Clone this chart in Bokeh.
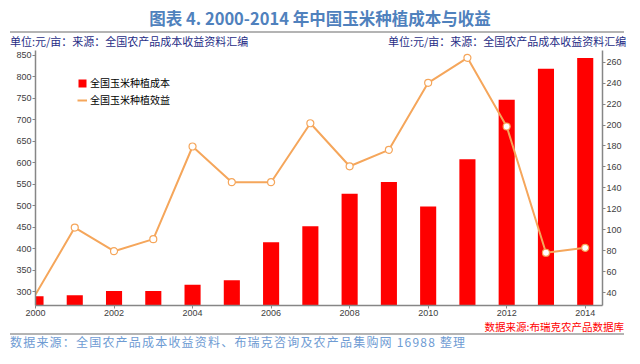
from bokeh.plotting import figure
from bokeh.models import Range1d, LinearAxis, Legend, LegendItem, FixedTicker, Div
from bokeh.layouts import column
from bokeh.embed import file_html
from bokeh.resources import INLINE

years = [2000, 2001, 2002, 2003, 2004, 2005, 2006, 2007, 2008, 2009, 2010, 2011, 2012, 2013, 2014]
cost = [289, 291, 301, 301, 316, 326, 415, 452, 528, 555, 498, 608, 747, 819, 844]
profit = [38, 102, 79.5, 91, 179.5, 145.4, 145.4, 201.7, 160.6, 176.3, 240.3, 264.2, 198.6, 78, 82.7]
x_ticks = [2000, 2002, 2004, 2006, 2008, 2010, 2012, 2014]
left_ticks = [300, 350, 400, 450, 500, 550, 600, 650, 700, 750, 800, 850]
right_ticks = [40, 60, 80, 100, 120, 140, 160, 180, 200, 220, 240, 260]

title_text = "图表 4. 2000-2014 年中国玉米种植成本与收益"
unit_text = "单位:元/亩：来源：全国农产品成本收益资料汇编"
src_red = "数据来源:布瑞克农产品数据库"
footer_text = "数据来源：全国农产品成本收益资料、布瑞克咨询及农产品集购网 16988 整理"
name_cost = "全国玉米种植成本"
name_profit = "全国玉米种植效益"

CJK = "Noto Sans CJK SC"
W = 624

header = Div(width=W, height=47, margin=0, text=f"""
<div style="position:relative;width:{W}px;height:47px;">
  <div style="position:absolute;left:0;top:8px;width:640px;text-align:center;font-family:'{CJK}';font-size:16.5px;font-weight:bold;line-height:20px;color:#4F81BD;white-space:nowrap;">{title_text}</div>
  <div style="position:absolute;left:10px;top:31px;width:614px;height:2px;background:#B4B4B4;"></div>
  <div style="position:absolute;left:10px;top:35px;font-family:'{CJK}';font-size:11px;line-height:12px;color:#1F2D86;white-space:nowrap;">{unit_text}</div>
  <div style="position:absolute;left:388px;top:35px;font-family:'{CJK}';font-size:11px;line-height:12px;color:#1F2D86;white-space:nowrap;">{unit_text}</div>
</div>""")

p = figure(width=W, height=273, output_backend="svg", toolbar_location=None,
           x_range=Range1d(2000, 2014.44), y_range=Range1d(267.4, 861.6),
           min_border_left=35, min_border_right=20, min_border_top=3, min_border_bottom=15,
           background_fill_color="white", border_fill_color="white", margin=0)
p.outline_line_color = None
p.xgrid.visible = False
p.ygrid.visible = False
p.extra_y_ranges = {"right": Range1d(27.6, 271.2)}

bars = p.vbar(x=years, top=cost, bottom=0, width=0.41, fill_color="#FF0000", line_color=None)
ln = p.line(years, profit, y_range_name="right", line_color="#F5A65B", line_width=2)
p.scatter(years[1:], profit[1:], y_range_name="right", size=7, fill_color="white",
          line_color="#F5A65B", line_width=1.2)

def style_axis(ax):
    ax.axis_line_color = "#868686"
    ax.axis_line_width = 1.5
    ax.major_tick_line_color = "#868686"
    ax.minor_tick_line_color = None
    ax.major_label_text_font = "Liberation Sans"
    ax.major_label_text_font_size = "9px"
    ax.major_label_text_color = "#404040"
    ax.major_tick_in = 0
    ax.major_tick_out = 3

style_axis(p.xaxis[0])
p.xaxis[0].ticker = FixedTicker(ticks=x_ticks)
p.xaxis[0].major_label_standoff = 1
style_axis(p.yaxis[0])
p.yaxis[0].ticker = FixedTicker(ticks=left_ticks)
p.yaxis[0].major_label_standoff = 1

rax = LinearAxis(y_range_name="right", ticker=FixedTicker(ticks=right_ticks))
style_axis(rax)
rax.major_label_standoff = 1
p.add_layout(rax, "right")

legend = Legend(items=[LegendItem(label=name_cost, renderers=[bars]),
                       LegendItem(label=name_profit, renderers=[ln])],
                location=(42, 198), background_fill_alpha=0, border_line_color=None,
                padding=0, spacing=2, glyph_width=10, glyph_height=10, label_height=10,
                label_standoff=3, label_text_font=CJK, label_text_font_size="10px",
                label_text_color="#000000", margin=0)
p.add_layout(legend, "center")

red = Div(width=W, height=11, margin=0, text=f"""
<div style="position:relative;width:{W}px;height:11px;">
  <div style="position:absolute;right:0px;top:0px;font-family:'{CJK}';font-size:10.5px;line-height:11px;color:#FF0000;white-space:nowrap;">{src_red}</div>
</div>""")

footer = Div(width=W, height=17, margin=0, text=f"""
<div style="position:relative;width:{W}px;height:17px;">
  <div style="position:absolute;left:10px;top:2px;width:614px;height:2px;background:#B4B4B4;"></div>
  <div style="position:absolute;left:10px;top:4px;font-family:'{CJK}';font-size:12px;line-height:13px;letter-spacing:1.2px;color:#6E9BD3;white-space:nowrap;">{footer_text}</div>
</div>""")

layout = column(header, p, red, footer, spacing=0, margin=0)
open("out.html", "w").write(file_html(layout, INLINE))
